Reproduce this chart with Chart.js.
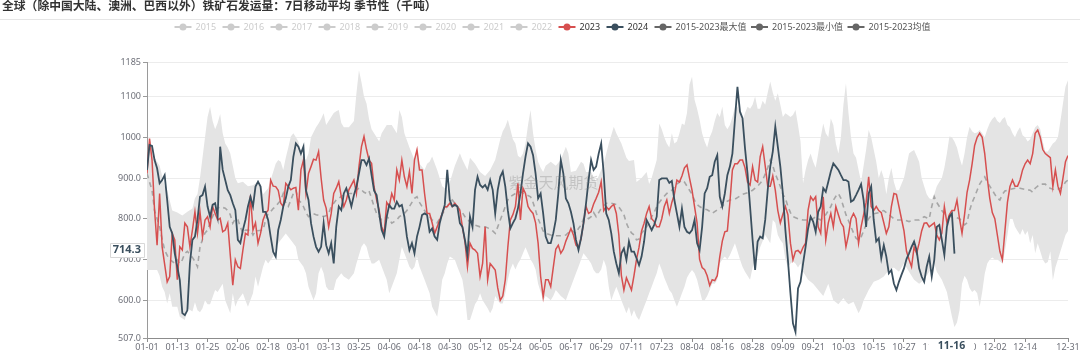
<!DOCTYPE html>
<html>
<head>
<meta charset="utf-8">
<script src="https://cdn.jsdelivr.net/npm/chart.js@4"></script>
<style>
  html, body { margin: 0; padding: 0; background: #fff; }
  #wrap { width: 1080px; height: 353px; }
</style>
</head>
<body>
<div id="wrap"><canvas id="c" width="1080" height="353"></canvas></div>
<script>
// x is day of year (leap-year calendar, 0 = 01-01 ... 365 = 12-31)
var titleText = '全球（除中国大陆、澳洲、巴西以外）铁矿石发运量：7日移动平均 季节性（千吨）';
var watermark = '紫金天风期货';

var xTickDays = [0,12,24,36,48,60,72,84,96,108,120,132,144,156,168,180,192,204,216,228,240,252,264,276,288,300,312,324,336,348,365];
var xTickLabels = ['01-01','01-13','01-25','02-06','02-18','03-01','03-13','03-25','04-06','04-18','04-30','05-12','05-24','06-05','06-17','06-29','07-11','07-23','08-04','08-16','08-28','09-09','09-21','10-03','10-15','10-27','11-08','11-20','12-02','12-14','12-31'];
var yTickValues = [507,600,700,800,900,1000,1100,1185];
var yTickLabels = ['507.0','600.0','700.0','800.0','900.0','1000','1100','1185'];

var legendNames = ['2015','2016','2017','2018','2019','2020','2021','2022','2023','2024','2015-2023最大值','2015-2023最小值','2015-2023均值'];
var legendMuted = [true,true,true,true,true,true,true,true,false,false,false,false,false];

var pointerDay = 320;
var pointerDayLabel = '11-16';
var pointerValue = 714.3;

var s2023 = [[0,911],[1,997],[2,944],[3,821],[4,735],[5,862],[6,731],[8,645],[9,658],[10,764],[11,748],[12,650],[13,731],[14,723],[15,789],[16,780],[17,731],[18,772],[19,817],[20,764],[21,817],[22,756],[23,797],[24,805],[25,780],[26,830],[27,813],[28,797],[29,801],[30,768],[31,772],[32,789],[33,711],[34,637],[35,699],[36,682],[37,678],[38,723],[39,764],[40,760],[41,857],[42,772],[43,790],[44,740],[45,764],[46,797],[47,813],[48,821],[49,895],[50,880],[51,879],[52,870],[53,838],[54,830],[55,887],[56,879],[57,871],[58,875],[59,877],[60,821],[61,920],[62,944],[63,862],[64,911],[65,928],[66,946],[67,944],[68,965],[69,900],[70,846],[71,826],[72,780],[73,813],[74,862],[75,875],[76,891],[77,854],[78,830],[79,846],[80,871],[82,895],[83,862],[84,928],[85,977],[86,1002],[87,970],[88,944],[89,936],[90,878],[91,846],[92,821],[93,780],[94,764],[95,840],[96,830],[97,862],[98,845],[99,920],[100,895],[101,944],[102,903],[103,879],[104,916],[105,862],[106,944],[107,969],[108,920],[109,920],[110,862],[111,813],[112,813],[113,790],[114,764],[115,780],[116,797],[117,813],[118,829],[119,830],[120,838],[121,830],[122,838],[123,830],[124,820],[125,780],[126,744],[127,682],[128,740],[129,727],[130,723],[131,715],[132,658],[133,690],[134,780],[135,650],[136,690],[137,682],[138,674],[139,630],[140,600],[141,610],[142,650],[143,730],[144,797],[145,810],[146,830],[147,887],[148,797],[149,875],[150,862],[151,830],[152,820],[153,813],[154,790],[155,740],[156,658],[157,608],[158,650],[159,650],[160,633],[161,680],[162,725],[163,735],[164,715],[165,725],[166,745],[167,760],[168,776],[169,760],[170,735],[171,730],[172,750],[173,790],[174,830],[175,813],[176,817],[177,836],[178,850],[179,865],[180,891],[181,820],[182,830],[183,822],[184,830],[185,835],[186,813],[187,760],[188,660],[189,625],[190,655],[191,640],[192,625],[193,660],[194,700],[195,730],[196,770],[197,789],[198,813],[199,830],[200,800],[201,793],[202,780],[203,780],[204,800],[205,830],[206,846],[207,813],[208,840],[209,860],[210,895],[211,890],[212,905],[213,925],[214,932],[215,900],[216,870],[217,830],[218,790],[219,700],[220,680],[221,675],[222,660],[223,636],[224,650],[225,648],[226,660],[227,707],[228,745],[229,768],[230,770],[231,840],[232,920],[233,935],[234,935],[235,944],[236,944],[237,925],[238,890],[239,883],[240,928],[241,895],[242,890],[243,952],[244,977],[245,930],[246,880],[247,880],[248,905],[249,870],[250,820],[251,790],[252,811],[253,830],[254,810],[255,740],[256,699],[257,720],[258,722],[259,715],[260,730],[261,740],[262,821],[263,854],[264,845],[265,854],[266,780],[267,764],[268,854],[269,748],[270,790],[271,813],[272,780],[273,830],[274,810],[275,790],[276,780],[277,731],[278,760],[279,800],[280,813],[281,800],[282,740],[283,780],[284,810],[285,840],[286,903],[287,830],[288,820],[289,830],[290,820],[291,815],[292,790],[293,764],[294,780],[295,830],[296,862],[297,860],[298,830],[299,800],[300,770],[301,720],[302,700],[303,682],[304,730],[305,715],[306,740],[307,770],[308,789],[309,790],[310,780],[311,785],[312,790],[313,760],[314,748],[315,765],[316,830],[317,790],[318,810],[319,820],[320,820],[321,846],[322,800],[323,764],[324,810],[325,865],[326,895],[327,935],[328,980],[329,1000],[330,1010],[331,1000],[332,960],[333,900],[334,850],[335,815],[336,800],[337,760],[338,720],[339,699],[340,770],[341,840],[342,879],[343,895],[344,880],[345,880],[346,895],[347,920],[348,935],[349,944],[350,935],[351,960],[352,1010],[353,1018],[354,1000],[355,970],[356,960],[357,955],[358,950],[359,879],[360,920],[361,880],[362,862],[363,900],[364,940],[365,955]];

var s2024 = [[0,920],[1,981],[2,979],[3,944],[4,924],[5,887],[6,895],[7,907],[8,846],[9,780],[10,764],[11,715],[12,682],[13,649],[14,568],[15,563],[16,575],[17,690],[18,748],[19,756],[20,797],[21,854],[22,858],[23,879],[24,830],[25,805],[26,834],[27,838],[28,805],[29,977],[30,920],[31,895],[32,870],[33,858],[34,838],[35,821],[36,748],[37,740],[38,772],[39,797],[40,830],[41,854],[42,830],[43,879],[44,891],[45,879],[46,817],[47,817],[48,797],[49,756],[50,719],[51,707],[52,772],[53,797],[54,830],[55,850],[56,879],[57,895],[58,952],[59,985],[60,977],[61,960],[62,977],[63,870],[64,846],[65,789],[66,756],[67,731],[68,719],[69,731],[70,789],[71,735],[72,715],[73,740],[74,690],[75,780],[76,830],[77,821],[78,862],[79,875],[80,854],[81,830],[82,858],[83,879],[84,911],[85,944],[86,944],[87,932],[88,948],[89,907],[90,869],[91,858],[92,813],[93,772],[94,756],[95,805],[96,834],[97,825],[98,825],[99,842],[100,830],[101,834],[102,805],[103,756],[104,723],[105,740],[106,715],[107,756],[108,780],[109,809],[110,813],[111,809],[112,768],[113,776],[114,756],[115,748],[116,789],[117,813],[118,834],[119,920],[120,846],[121,830],[122,834],[123,830],[124,789],[125,780],[126,748],[127,711],[128,805],[129,780],[130,871],[131,903],[132,883],[133,877],[134,883],[135,871],[136,895],[137,871],[138,813],[139,871],[140,903],[141,916],[142,879],[143,821],[144,776],[145,789],[146,801],[147,825],[148,862],[149,911],[150,952],[151,985],[152,977],[153,956],[154,911],[155,850],[156,862],[157,813],[158,756],[159,740],[160,740],[161,764],[162,797],[163,862],[164,944],[165,911],[166,850],[167,838],[168,817],[169,789],[170,748],[171,723],[172,752],[173,789],[174,838],[175,895],[176,944],[177,920],[178,928],[179,960],[180,985],[181,911],[182,813],[183,797],[184,764],[185,719],[186,690],[187,666],[188,715],[189,727],[190,699],[191,744],[192,719],[193,719],[194,703],[195,686],[196,707],[197,744],[198,797],[199,785],[200,772],[201,785],[202,805],[203,895],[204,899],[205,899],[206,899],[207,888],[208,893],[209,846],[210,813],[211,780],[212,825],[213,780],[214,768],[215,764],[216,772],[217,797],[218,740],[219,723],[220,780],[221,862],[222,875],[223,903],[224,907],[225,940],[226,956],[227,854],[228,830],[229,862],[230,907],[231,928],[232,960],[233,1043],[234,1124],[235,1063],[236,1047],[237,973],[238,911],[239,830],[240,748],[241,674],[242,744],[243,756],[244,752],[245,797],[246,871],[247,928],[248,965],[249,1026],[250,977],[251,928],[252,862],[253,772],[254,699],[255,617],[256,543],[257,522],[258,629],[259,645],[260,690],[261,731],[262,776],[263,805],[264,793],[265,768],[266,817],[267,830],[268,875],[269,866],[270,891],[271,916],[272,936],[273,928],[274,920],[275,907],[276,895],[277,895],[278,891],[279,842],[280,846],[281,858],[282,871],[283,885],[284,846],[285,780],[286,862],[287,879],[288,797],[289,744],[290,752],[291,703],[292,735],[293,707],[294,666],[295,674],[296,641],[297,625],[298,645],[299,662],[300,678],[301,701],[302,715],[303,731],[304,744],[305,723],[306,678],[307,658],[308,645],[309,682],[310,707],[311,658],[312,699],[313,780],[314,785],[315,748],[316,711],[317,780],[318,805],[319,813],[320,714.3]];

var sMax = [[0,930],[1,997],[2,975],[3,950],[5,930],[7,880],[8,870],[10,820],[12,815],[14,808],[16,817],[18,825],[19,850],[20,860],[21,900],[23,1000],[24,1050],[25,1075],[26,1040],[27,1020],[28,1035],[29,1057],[30,1010],[31,985],[32,975],[33,960],[35,900],[36,887],[38,891],[40,880],[42,882],[44,891],[45,885],[46,860],[48,875],[50,915],[51,935],[52,944],[53,940],[54,920],[55,950],[56,975],[57,1002],[58,1010],[59,1000],[60,990],[61,960],[63,944],[64,960],[65,1000],[67,1025],[68,1034],[69,1045],[70,1059],[71,1030],[72,1040],[73,1050],[74,1060],[75,1064],[76,1067],[77,1035],[78,1025],[80,1025],[82,1040],[83,1108],[84,1165],[85,1135],[86,1100],[87,1083],[88,1045],[89,1020],[90,1010],[91,1000],[92,990],[93,1010],[95,1030],[97,1030],[99,1010],[100,1067],[101,1050],[102,1010],[104,975],[106,945],[107,975],[108,935],[110,920],[111,935],[112,940],[113,953],[115,920],[117,880],[119,870],[121,910],[122,930],[124,961],[125,945],[127,920],[128,950],[130,935],[132,915],[134,905],[136,920],[138,945],[139,970],[140,995],[141,1015],[142,1026],[143,1043],[144,1020],[145,995],[146,985],[147,955],[148,950],[149,960],[150,985],[151,1030],[152,1067],[153,1010],[154,970],[155,940],[156,925],[157,915],[158,930],[160,940],[162,930],[164,945],[166,977],[167,960],[168,915],[170,918],[172,940],[173,935],[174,915],[176,915],[178,890],[179,905],[181,935],[183,985],[185,1026],[186,1010],[188,985],[190,950],[191,942],[193,944],[194,890],[196,900],[198,915],[199,885],[200,900],[202,944],[203,1034],[204,1020],[205,1000],[206,985],[207,975],[208,1010],[209,985],[210,990],[211,1010],[212,1034],[213,1030],[214,1060],[215,1130],[216,1149],[217,1092],[218,1070],[219,1043],[220,1010],[221,990],[222,975],[223,1000],[224,1015],[225,1040],[226,1060],[227,1050],[228,1075],[229,1030],[230,1020],[231,1030],[232,1050],[233,1075],[234,1075],[235,1060],[236,1040],[237,1060],[238,1075],[239,1070],[240,1080],[241,1100],[242,1070],[243,1070],[244,1090],[245,1080],[246,1110],[247,1137],[248,1110],[249,1090],[250,1108],[251,1080],[252,1050],[253,1059],[254,1055],[255,1050],[256,1055],[257,1067],[258,1030],[259,990],[260,887],[261,920],[262,944],[263,960],[264,940],[265,925],[266,960],[267,1000],[268,1034],[269,1010],[270,1000],[271,1046],[272,1030],[273,985],[274,960],[275,1000],[276,1080],[277,1133],[278,1060],[279,1000],[280,960],[281,950],[282,920],[283,890],[284,930],[285,970],[286,1018],[287,1000],[288,970],[289,940],[290,900],[291,920],[292,900],[293,860],[294,900],[295,925],[296,890],[297,870],[298,870],[299,885],[300,900],[301,930],[302,960],[303,965],[304,969],[305,955],[306,940],[307,900],[308,880],[309,860],[310,850],[311,848],[312,860],[313,880],[314,890],[315,900],[316,925],[317,960],[318,1002],[319,1000],[320,990],[321,975],[322,950],[323,930],[324,960],[325,1000],[326,1026],[327,1015],[328,1010],[329,1012],[330,1018],[331,1010],[332,1000],[333,1020],[334,1035],[335,1045],[336,1051],[337,1040],[338,1035],[339,1045],[340,1050],[341,1030],[342,1025],[343,1010],[344,1000],[345,1015],[346,1025],[347,1005],[348,1000],[349,990],[350,995],[351,1010],[352,1025],[353,1030],[354,1020],[355,990],[356,965],[357,965],[358,975],[359,985],[360,990],[361,1000],[362,1040],[363,1083],[364,1124],[365,1140]];

var sMin = [[0,674],[4,674],[5,660],[6,633],[7,620],[8,592],[9,617],[10,584],[12,584],[13,559],[15,551],[16,580],[18,572],[19,595],[20,575],[21,570],[22,580],[23,600],[24,590],[25,590],[27,625],[28,620],[30,640],[31,600],[33,568],[34,617],[35,584],[36,600],[38,617],[39,600],[40,584],[42,617],[43,658],[44,633],[46,682],[47,699],[48,690],[50,707],[51,731],[53,748],[55,764],[56,756],[57,748],[59,731],[60,699],[62,682],[63,666],[64,633],[66,600],[67,617],[68,666],[69,682],[70,666],[71,633],[72,625],[74,625],[75,650],[77,666],[78,658],[80,650],[82,666],[83,690],[85,731],[86,740],[87,731],[88,707],[89,690],[90,690],[92,699],[94,666],[95,650],[96,617],[97,633],[99,666],[100,699],[101,731],[102,715],[103,699],[104,682],[105,674],[106,682],[107,707],[108,682],[110,650],[112,617],[113,584],[115,559],[116,600],[117,650],[118,666],[119,690],[120,707],[122,699],[123,682],[125,650],[126,610],[127,551],[128,551],[129,570],[130,590],[131,600],[132,617],[133,600],[135,580],[136,568],[137,580],[138,610],[139,600],[140,592],[141,592],[142,617],[143,650],[144,675],[145,690],[146,675],[147,690],[148,700],[149,715],[150,730],[151,715],[152,700],[153,690],[154,675],[155,640],[156,620],[157,600],[158,610],[159,605],[160,600],[161,610],[162,625],[164,610],[166,600],[167,617],[168,633],[170,666],[171,682],[172,699],[173,715],[174,707],[175,699],[176,690],[177,674],[178,666],[179,666],[180,675],[181,699],[182,682],[183,633],[184,600],[185,617],[186,633],[187,617],[188,600],[189,584],[190,568],[191,584],[192,560],[193,576],[194,560],[195,551],[196,568],[197,584],[198,600],[199,617],[200,633],[201,650],[202,666],[203,690],[204,674],[205,655],[206,640],[207,625],[208,617],[209,600],[210,584],[211,600],[212,617],[213,633],[214,655],[215,666],[216,674],[217,666],[218,650],[219,625],[220,600],[221,600],[222,610],[223,625],[224,641],[225,640],[226,650],[227,690],[228,700],[229,707],[230,700],[231,710],[232,725],[233,740],[234,720],[235,700],[236,682],[237,670],[238,660],[239,650],[240,680],[241,700],[242,710],[243,730],[244,745],[245,760],[246,750],[247,740],[248,797],[249,790],[250,760],[251,748],[252,740],[253,700],[254,680],[255,690],[256,695],[257,690],[258,680],[259,690],[260,670],[262,650],[264,640],[266,625],[268,610],[270,640],[272,600],[274,590],[276,605],[277,596],[278,590],[280,596],[282,568],[283,580],[284,600],[285,612],[286,625],[288,645],[290,650],[292,658],[294,674],[296,680],[298,670],[300,690],[302,670],[304,650],[306,640],[308,650],[310,670],[312,690],[313,670],[315,650],[317,620],[318,590],[319,560],[320,534],[321,545],[322,575],[323,640],[324,660],[325,650],[326,630],[327,620],[328,625],[329,617],[330,584],[331,620],[332,665],[333,690],[334,700],[335,705],[336,700],[337,700],[338,695],[339,690],[340,720],[341,760],[342,800],[343,800],[344,780],[345,770],[346,760],[347,775],[348,760],[349,770],[350,740],[351,760],[352,715],[353,740],[354,720],[355,700],[356,690],[357,694],[358,720],[359,649],[360,680],[361,700],[362,720],[363,740],[364,760],[365,770]];

var sAvg = [[0,911],[2,870],[3,820],[4,800],[5,780],[6,750],[7,723],[8,710],[9,700],[10,695],[11,690],[12,699],[13,690],[14,699],[15,715],[16,720],[17,712],[18,705],[19,695],[20,682],[21,730],[22,750],[23,765],[24,772],[25,790],[26,805],[27,820],[28,826],[29,829],[31,826],[32,820],[33,810],[34,789],[35,800],[36,798],[37,780],[38,764],[39,772],[41,772],[42,760],[43,770],[46,772],[47,797],[48,813],[49,817],[50,825],[51,830],[52,838],[53,845],[54,862],[55,838],[56,830],[57,846],[58,862],[59,870],[60,846],[61,840],[62,830],[63,815],[64,805],[66,812],[67,810],[70,805],[71,808],[72,813],[73,830],[74,838],[75,846],[76,850],[77,855],[78,858],[79,862],[82,862],[83,870],[84,875],[85,871],[86,865],[87,862],[88,868],[89,850],[90,830],[91,813],[92,805],[93,797],[94,797],[95,805],[96,800],[97,789],[98,793],[99,797],[100,805],[101,809],[102,813],[103,820],[104,830],[105,840],[106,850],[107,854],[108,840],[109,830],[110,820],[111,813],[112,805],[113,797],[114,793],[115,790],[116,800],[117,810],[118,822],[119,830],[120,840],[121,846],[122,838],[123,830],[124,822],[125,815],[126,805],[127,797],[128,793],[129,788],[130,784],[132,780],[134,780],[136,775],[137,770],[138,764],[139,780],[140,797],[141,813],[142,830],[143,846],[144,854],[146,862],[148,866],[150,860],[152,854],[153,840],[154,820],[155,800],[156,785],[157,770],[158,764],[160,760],[162,758],[164,758],[166,760],[168,772],[170,764],[171,776],[172,784],[173,800],[174,805],[175,800],[176,805],[177,815],[178,805],[179,815],[180,825],[182,838],[184,838],[186,835],[187,829],[188,820],[189,810],[190,789],[191,775],[192,765],[193,760],[194,748],[195,750],[196,764],[197,772],[198,780],[199,790],[200,805],[201,815],[202,830],[203,840],[204,848],[205,855],[206,862],[207,866],[208,870],[209,878],[210,885],[211,890],[212,895],[213,890],[214,880],[215,870],[216,860],[217,845],[218,835],[219,830],[220,826],[222,822],[223,818],[224,813],[226,822],[228,830],[229,838],[230,843],[231,846],[233,848],[234,852],[235,856],[236,860],[238,864],[240,870],[241,875],[242,880],[243,887],[244,895],[245,910],[246,925],[247,944],[248,930],[249,910],[250,895],[251,879],[252,860],[253,850],[254,830],[255,815],[256,805],[258,800],[260,797],[263,797],[264,800],[265,805],[266,800],[267,797],[268,805],[269,810],[270,820],[271,830],[272,845],[273,855],[274,862],[275,850],[276,830],[277,810],[278,795],[279,780],[280,765],[281,752],[282,748],[283,755],[284,770],[285,785],[286,800],[287,808],[288,812],[290,815],[291,818],[292,820],[293,815],[294,810],[295,805],[296,800],[297,797],[300,797],[302,793],[304,797],[306,797],[308,805],[310,800],[311,830],[312,854],[313,840],[314,830],[315,820],[316,812],[318,805],[320,805],[322,800],[324,785],[325,790],[326,820],[327,840],[328,854],[329,870],[330,885],[331,895],[332,903],[333,890],[334,880],[335,870],[336,860],[337,850],[338,846],[339,860],[340,868],[342,872],[344,875],[346,875],[348,872],[350,870],[351,865],[352,875],[353,880],[354,885],[356,885],[357,878],[358,875],[360,870],[362,875],[363,880],[364,890],[365,895]];

var FONT = "'Noto Sans', 'Noto Sans CJK SC', sans-serif";
var RED = '#d64f4f';
var NAVY = '#3a4f5e';
var BAND = '#e4e4e4';
var AVG = '#a6a6a6';
var MUTED = '#cccccc';
var GREYMARK = '#666666';

function toXY(arr) {
    return arr.map(function (p) { return {x: p[0], y: p[1]}; });
}

function legendColor(i) {
    if (legendMuted[i]) return MUTED;
    if (legendNames[i] === '2023') return RED;
    if (legendNames[i] === '2024') return NAVY;
    return GREYMARK;
}

var decor = {
    id: 'decor',
    afterDatasetsDraw: function (chart) {
        var ctx = chart.ctx, a = chart.chartArea;
        ctx.save();
        ctx.font = '15px ' + FONT;
        ctx.fillStyle = 'rgba(110,110,110,0.28)';
        ctx.textAlign = 'center';
        ctx.textBaseline = 'middle';
        ctx.fillText(watermark, (a.left + a.right) / 2 - 54, (a.top + a.bottom) / 2 - 16);
        ctx.restore();
    },
    afterDraw: function (chart) {
        var ctx = chart.ctx, a = chart.chartArea;
        ctx.save();

        // title
        ctx.font = 'bold 11.8px ' + FONT;
        ctx.fillStyle = '#333';
        ctx.textAlign = 'left';
        ctx.textBaseline = 'middle';
        ctx.fillText(titleText, 2, 7);
        ctx.strokeStyle = '#e6e6e6';
        ctx.lineWidth = 1;
        ctx.beginPath();
        ctx.moveTo(0, 19.5);
        ctx.lineTo(chart.width, 19.5);
        ctx.stroke();

        // legend: short (year) items and long items have fixed slots
        ctx.font = '9px ' + FONT;
        var mark = 17, x = 174.5, ly = 27;
        legendNames.forEach(function (n, i) {
            var c = legendColor(i);
            ctx.strokeStyle = c;
            ctx.lineWidth = 2;
            ctx.beginPath();
            ctx.moveTo(x, ly);
            ctx.lineTo(x + mark, ly);
            ctx.stroke();
            ctx.fillStyle = c;
            ctx.beginPath();
            ctx.arc(x + mark / 2, ly, 3.5, 0, Math.PI * 2);
            ctx.fill();
            ctx.fillStyle = legendMuted[i] ? MUTED : (i < 10 ? '#333' : '#555');
            ctx.textBaseline = 'middle';
            ctx.fillText(n, x + mark + 4, ly + 0.5);
            x += n.length > 4 ? 96.5 : 48;
        });

        // axis pointer labels
        var ys = chart.scales.y, xs = chart.scales.x;
        var py = ys.getPixelForValue(pointerValue) - 4;
        ctx.font = 'bold 11px ' + FONT;
        var txt = pointerValue.toFixed(1);
        var tw = ctx.measureText(txt).width;
        var bx = a.left - 3 - tw - 6;
        ctx.fillStyle = '#fff';
        ctx.strokeStyle = '#d8d8d8';
        ctx.lineWidth = 1;
        ctx.beginPath();
        ctx.rect(Math.round(bx) + 0.5, Math.round(py - 7) + 0.5, Math.round(tw + 6), 14);
        ctx.fill();
        ctx.stroke();
        ctx.fillStyle = NAVY;
        ctx.textAlign = 'left';
        ctx.fillText(txt, bx + 3, py + 0.5);

        var px = xs.getPixelForValue(pointerDay) - 3;
        ctx.font = 'bold 10.5px ' + FONT;
        var tw2 = ctx.measureText(pointerDayLabel).width;
        ctx.fillStyle = '#fff';
        ctx.fillRect(px - tw2 / 2 - 9, a.bottom + 1, tw2 + 18, chart.height - a.bottom - 1);
        ctx.fillStyle = NAVY;
        ctx.textAlign = 'center';
        ctx.fillText(pointerDayLabel, px, a.bottom + 8.5);
        ctx.restore();
    }
};

var lineBase = {pointRadius: 0, pointHoverRadius: 0, tension: 0, fill: false};

var datasets = [
    Object.assign({}, lineBase, {label: '2024', data: toXY(s2024), borderColor: NAVY, borderWidth: 1.8, order: 1}),
    Object.assign({}, lineBase, {label: '2023', data: toXY(s2023), borderColor: RED, borderWidth: 1.5, order: 2}),
    Object.assign({}, lineBase, {label: '2015-2023均值', data: toXY(sAvg), borderColor: AVG, borderWidth: 1.6, borderDash: [5, 4], order: 3}),
    Object.assign({}, lineBase, {label: '2015-2023最大值', data: toXY(sMax), borderWidth: 0, borderColor: 'rgba(0,0,0,0)', backgroundColor: BAND, fill: '+1', order: 4}),
    Object.assign({}, lineBase, {label: '2015-2023最小值', data: toXY(sMin), borderWidth: 0, borderColor: 'rgba(0,0,0,0)', order: 5})
];

new Chart(document.getElementById('c'), {
    type: 'line',
    data: {datasets: datasets},
    options: {
        responsive: false,
        animation: false,
        events: [],
        layout: {padding: {top: 62, right: 12, left: 0, bottom: 0}},
        plugins: {legend: {display: false}, tooltip: {enabled: false}, title: {display: false}},
        scales: {
            x: {
                type: 'linear',
                min: 0,
                max: 365,
                afterBuildTicks: function (s) {
                    s.ticks = xTickDays.map(function (v) { return {value: v}; });
                },
                afterFit: function (s) {
                    s.height = 15;
                    s.paddingLeft = 0;
                    s.paddingRight = 0;
                },
                ticks: {
                    autoSkip: false,
                    maxRotation: 0,
                    minRotation: 0,
                    padding: 0,
                    color: '#6e7079',
                    font: {size: 9, family: FONT},
                    callback: function (v, i) { return xTickLabels[i]; }
                },
                grid: {drawOnChartArea: false, tickLength: 4, tickColor: '#8c8c8c'},
                border: {color: '#8c8c8c'}
            },
            y: {
                min: 507,
                max: 1185,
                afterBuildTicks: function (s) {
                    s.ticks = yTickValues.map(function (v) { return {value: v}; });
                },
                afterFit: function (s) { s.width = 147; },
                ticks: {
                    padding: 2,
                    color: '#6e7079',
                    font: {size: 9, family: FONT},
                    callback: function (v, i) { return yTickLabels[i]; }
                },
                grid: {color: '#ececec', tickLength: 4, tickColor: '#9a9a9a'},
                border: {color: '#9a9a9a'}
            }
        }
    },
    plugins: [decor]
});
</script>
</body>
</html>
